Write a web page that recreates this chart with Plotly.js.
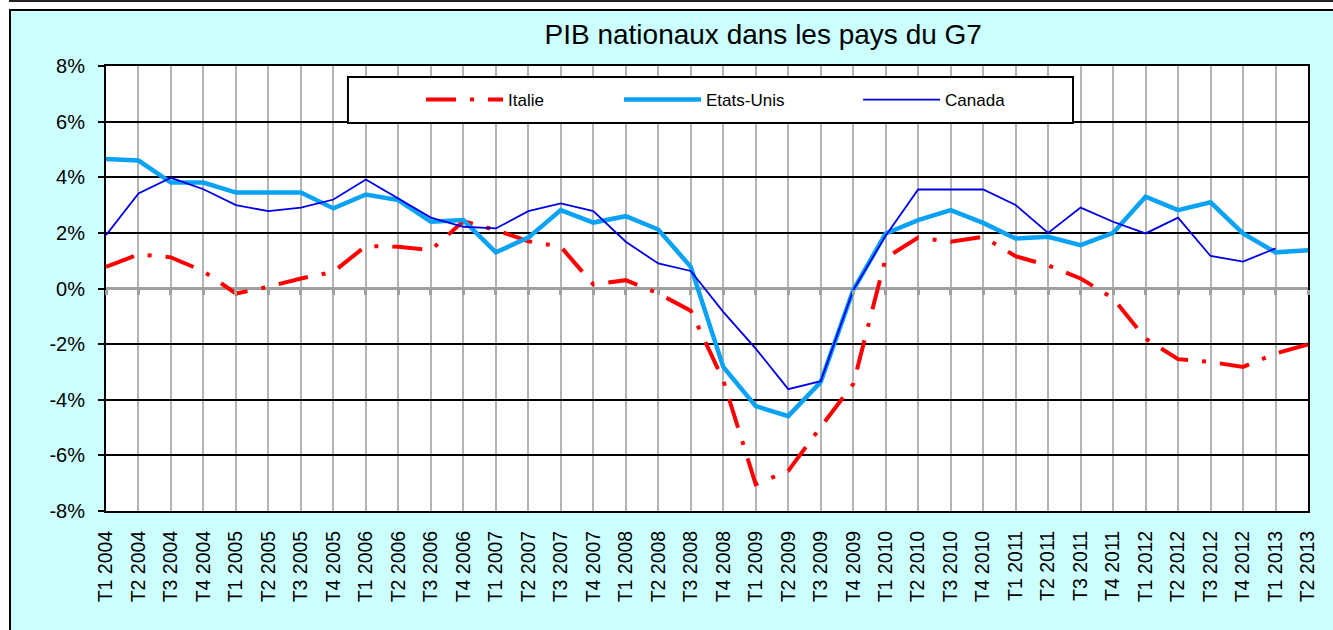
<!DOCTYPE html>
<html><head><meta charset="utf-8">
<script src="https://cdn.plot.ly/plotly-3.0.1.min.js"></script>
<style>
body{margin:0;}
#outer{position:relative;width:1333px;height:630px;background:#fff;overflow:hidden;}
#topline{position:absolute;left:9px;top:0;width:1324px;height:2px;background:#222;}
#frame{position:absolute;left:9px;top:9px;width:1324px;height:621px;border-left:2px solid #000;border-top:2px solid #000;box-sizing:border-box;background:#ccffff;}
#chart{position:absolute;left:0;top:0;width:1322px;height:619px;}
</style></head>
<body>
<div id="outer"><div id="topline"></div><div id="frame"><div id="chart"></div></div></div>
<script>
const categories = ["T1 2004","T2 2004","T3 2004","T4 2004","T1 2005","T2 2005","T3 2005","T4 2005",
  "T1 2006","T2 2006","T3 2006","T4 2006","T1 2007","T2 2007","T3 2007","T4 2007",
  "T1 2008","T2 2008","T3 2008","T4 2008","T1 2009","T2 2009","T3 2009","T4 2009",
  "T1 2010","T2 2010","T3 2010","T4 2010","T1 2011","T2 2011","T3 2011","T4 2011",
  "T1 2012","T2 2012","T3 2012","T4 2012","T1 2013","T2 2013"];
const italie = [0.78,1.23,1.12,0.62,-0.18,0.06,0.36,0.6,1.53,1.5,1.38,2.42,2.1,1.7,1.5,0.15,0.3,-0.18,-0.8,-3.3,
  -7.04,-6.56,-4.98,-3.44,1.1,1.83,1.68,1.86,1.16,0.83,0.36,-0.35,-1.8,-2.54,-2.64,-2.82,-2.34,-2.01];
const etatsUnis = [4.66,4.6,3.81,3.81,3.45,3.45,3.45,2.88,3.38,3.18,2.4,2.46,1.3,1.83,2.82,2.37,2.6,2.12,0.78,-2.82,
  -4.23,-4.59,-3.36,-0.06,1.98,2.46,2.82,2.36,1.8,1.86,1.56,2.0,3.3,2.82,3.1,1.98,1.3,1.38];
const canada = [1.92,3.42,3.98,3.57,3.0,2.78,2.91,3.2,3.92,3.24,2.55,2.22,2.16,2.78,3.06,2.78,1.68,0.9,0.63,-0.84,
  -2.16,-3.62,-3.33,-0.06,1.9,3.56,3.56,3.56,3.0,2.0,2.91,2.4,1.98,2.55,1.17,0.97,1.44,null];
const yTicks = [-8,-6,-4,-2,0,2,4,6,8];

const FONT = '"Liberation Sans", Arial, sans-serif';
const traces = [
  {x: categories, y: italie, name: 'Italie', type: 'scatter', mode: 'lines', legend: 'legend',
   line: {color: '#ff0000', width: 4, dash: '30px,14px,4px,14px'}},
  {x: categories, y: etatsUnis, name: 'Etats-Unis', type: 'scatter', mode: 'lines', legend: 'legend2',
   line: {color: '#0aa2f5', width: 4.5}},
  {x: categories, y: canada, name: 'Canada', type: 'scatter', mode: 'lines', legend: 'legend3',
   xaxis: 'x2', yaxis: 'y',
   line: {color: '#0000e6', width: 1.8}}
];
const legCommon = {orientation: 'h', bgcolor: 'rgba(0,0,0,0)', borderwidth: 0, itemwidth: 77,
  font: {family: FONT, size: 17, color: '#000'}, yanchor: 'middle', y: 0.9236, xanchor: 'left'};
const layout = {
  width: 1322, height: 619,
  margin: {l: 95, r: 25, t: 55, b: 119},
  paper_bgcolor: '#ccffff', plot_bgcolor: '#ffffff',
  font: {family: FONT, color: '#000'},
  title: {text: 'PIB nationaux dans les pays du G7', font: {family: FONT, size: 28, color: '#000'},
    xref: 'container', x: 0.569, xanchor: 'center', yref: 'container', y: 0.962, yanchor: 'middle'},
  showlegend: true,
  legend: Object.assign({}, legCommon, {x: 0.2621}),
  legend2: Object.assign({}, legCommon, {x: 0.4268}),
  legend3: Object.assign({}, legCommon, {x: 0.6257}),
  xaxis: {type: 'category', range: [0, 37], dtick: 1, tickangle: -90,
    showgrid: true, gridcolor: '#b4b4b4', gridwidth: 2, zeroline: false,
    showline: true, mirror: true, linecolor: '#000', linewidth: 2,
    ticks: '', ticklabelstandoff: 10, tickfont: {family: FONT, size: 19.5, color: '#000'}},
  xaxis2: {overlaying: 'x', anchor: 'free', position: 0.5, type: 'category', range: [0, 37], dtick: 1,
    ticks: 'outside', ticklen: 5, tickwidth: 3, tickcolor: '#a0a0a0', showticklabels: false,
    showgrid: false, showline: false, zeroline: false},
  yaxis: {range: [-8, 8], tickvals: yTicks, ticktext: yTicks.map(v => v + '%'),
    showgrid: true, gridcolor: '#000', gridwidth: 1.5,
    zeroline: true, zerolinecolor: '#a0a0a0', zerolinewidth: 3,
    showline: true, mirror: true, linecolor: '#000', linewidth: 2,
    ticks: 'outside', ticklen: 6, tickwidth: 1.5, tickcolor: '#000', ticklabelstandoff: 9,
    tickfont: {family: FONT, size: 20, color: '#000'}},
  shapes: [{type: 'rect', xref: 'paper', yref: 'paper', x0: 0.2013, x1: 0.8045, y0: 0.8719, y1: 0.9753,
    fillcolor: '#ffffff', line: {color: '#000', width: 2}, layer: 'above'}]
};
Plotly.newPlot('chart', traces, layout, {displayModeBar: false, responsive: false});
</script>
</body></html>
